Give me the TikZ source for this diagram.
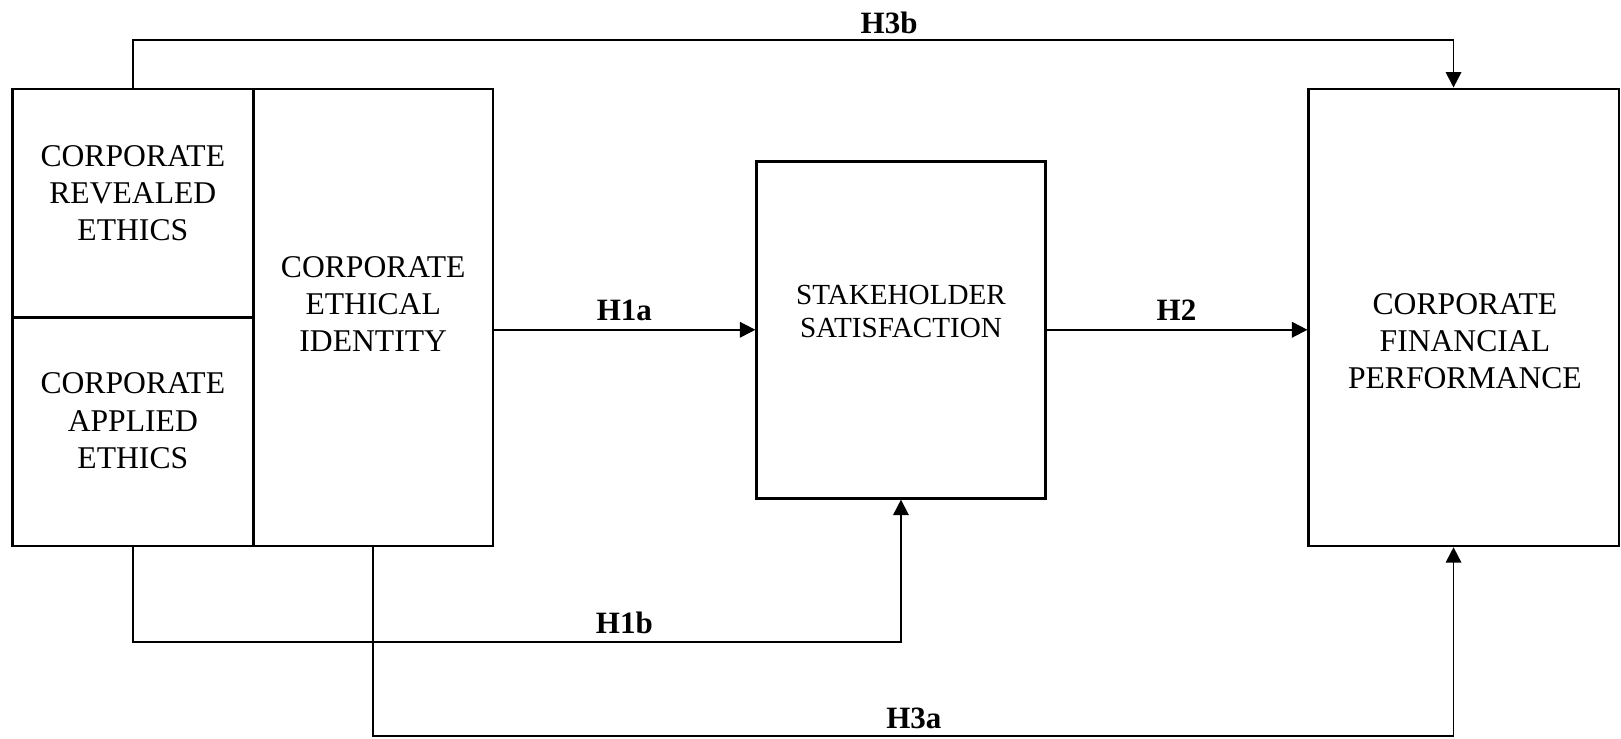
\documentclass[tikz,border=0pt]{standalone}
\usepackage{fontspec}
\setmainfont{Liberation Serif}
\usetikzlibrary{arrows.meta,calc}
\begin{document}
\begin{tikzpicture}[x=1pt,y=-1pt,
  box/.style={draw,line width=2.6pt,rectangle,inner sep=0pt,align=center,
    font=\fontsize{30.6}{36}\selectfont},
  conn/.style={line width=1.8pt},
  arr/.style={conn,-{Triangle[length=15pt,width=15pt]}},
  lbl/.style={inner sep=0pt,font=\fontsize{30}{36}\selectfont\bfseries}]
\useasboundingbox (0,0) rectangle (1568,714);
% boxes
\node[box,minimum width=233pt,minimum height=221pt] (CRE) at (128.5,196.5) {};
\node[box,minimum width=233pt,minimum height=221pt] (CAE) at (128.5,417.5) {};
\node[box,minimum width=232pt,minimum height=442pt] (CEI) at (361,307) {};
\node[box,minimum width=279pt,minimum height=326pt] (SS) at (871.5,319) {};
\node[box,minimum width=300pt,minimum height=442pt] (FP) at (1416,307) {};
% texts
\node[inner sep=0pt,align=center,font=\fontsize{30.6}{36}\selectfont] (tCRE) at (128.5,187) {CORPORATE\\REVEALED\\ETHICS};
\node[inner sep=0pt,align=center,font=\fontsize{30.6}{36}\selectfont] (tCAE) at (128.5,407) {CORPORATE\\APPLIED\\ETHICS};
\node[inner sep=0pt,align=center,font=\fontsize{30.6}{36}\selectfont] (tCEI) at (361,294) {CORPORATE\\ETHICAL\\IDENTITY};
\node[inner sep=0pt,align=center,font=\fontsize{28.2}{32}\selectfont] (tSS) at (871.5,301) {STAKEHOLDER\\SATISFACTION};
\node[inner sep=0pt,align=center,font=\fontsize{30.6}{36}\selectfont] (tFP) at (1417,330) {CORPORATE\\FINANCIAL\\PERFORMANCE};
% routing points
\coordinate (h3bR) at (1406,39);
\coordinate (h1bR) at (871.5,621);
\coordinate (h3aR) at (1406,712);
% connectors
\draw[arr] (CRE.north) -- (CRE.north |- h3bR) -- (h3bR) -- (h3bR |- FP.north);
\draw[arr] (CEI.east |- SS.west) -- (SS.west);
\draw[arr] (SS.east) -- (SS.east -| FP.west);
\draw[arr] (CAE.south) -- (CAE.south |- h1bR) -- (h1bR) -- (SS.south);
\draw[arr] (CEI.south) -- (CEI.south |- h3aR) -- (h3aR) -- (h3aR |- FP.south);
% labels
\node[lbl] (l3b) at (860,22) {H3b};
\node[lbl] (l1a) at (604,300) {H1a};
\node[lbl] (l2) at (1138,300) {H2};
\node[lbl] (l1b) at (604,603) {H1b};
\node[lbl] (l3a) at (884,695) {H3a};
\end{tikzpicture}
\end{document}
